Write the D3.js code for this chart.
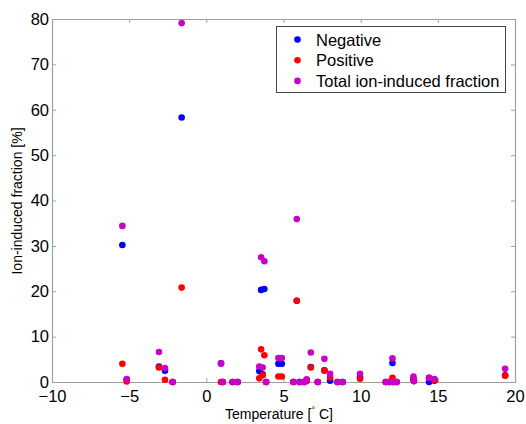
<!DOCTYPE html>
<html>
<head>
<meta charset="utf-8">
<script src="https://cdn.jsdelivr.net/npm/d3@7/dist/d3.min.js"></script>
<style>
  html, body { margin: 0; padding: 0; background: #fff; }
  svg { display: block; font-family: "Liberation Sans", Arial, sans-serif; }
</style>
</head>
<body>
<svg id="chart" width="526" height="424"></svg>
<script>
// ---- data ----
const temps    = [-5.44, -5.16, -3.07, -2.68, -2.18, -1.6, 0.95, 1.06, 1.7, 2.03, 3.43, 3.55, 3.65, 3.76, 3.87, 4.67, 4.89, 5.64, 5.86, 6.03, 6.35, 6.5, 6.77, 7.22, 7.65, 8.02, 8.5, 8.84, 9.96, 11.63, 11.85, 12.06, 12.1, 12.33, 13.42, 13.45, 14.43, 14.78, 19.36];
const negative = [30.2, 0.5, 3.4, 2.5, 0, 58.3, 4.1, 0, 0, 0, 2.4, 20.3, 1.7, 20.5, 0, 4.0, 4.0, 0, 17.9, 0, 0, 0.3, 3.3, 0, 2.6, 0.3, 0, 0, 1.1, 0, 0, 4.2, 0, 0, 0.6, 0.2, 0, 0.3, 1.5];
const positive = [4.0, 0.1, 3.2, 0.5, 0, 20.8, 0, 0, 0, 0, 0.8, 7.2, 1.5, 5.9, 0, 1.2, 1.2, 0, 17.9, 0, 0, 0.3, 3.2, 0, 2.5, 1.0, 0, 0, 0.7, 0, 0, 0.95, 0, 0, 0.6, 0.2, 0.95, 0.37, 1.4];
const total    = [34.4, 0.66, 6.6, 3.1, 0, 79.1, 4.1, 0, 0, 0, 3.4, 27.5, 3.2, 26.6, 0, 5.3, 5.3, 0, 35.9, 0, 0, 0.6, 6.5, 0, 5.1, 1.8, 0, 0, 1.8, 0, 0, 5.2, 0, 0, 1.2, 0.4, 0.95, 0.66, 2.9];
const seriesNames = ["Negative", "Positive", "Total ion-induced fraction"];
const seriesColors = ["#0000ff", "#ff0000", "#c800c8"];
const xTicks = [-10, -5, 0, 5, 10, 15, 20];
const yTicks = [0, 10, 20, 30, 40, 50, 60, 70, 80];
const xTitle = "Temperature [";
const yTitle = "Ion-induced fraction [%]";

// ---- layout ----
const L = 52, R = 515, T = 19, B = 382;
const svg = d3.select("#chart");
const x = d3.scaleLinear().domain([-10, 20]).range([L, R]);
const y = d3.scaleLinear().domain([0, 80]).range([B, T]);
const axisColor = "#a0a0a0";

function styleAxis(g) {
  g.selectAll(".domain").attr("stroke", axisColor).attr("stroke-width", 1.2);
  g.selectAll(".tick line").attr("stroke", axisColor);
  g.selectAll(".tick text").attr("fill", "#000").attr("font-size", 16.5);
}

svg.append("g").attr("transform", `translate(0,${B})`)
  .call(d3.axisBottom(x).tickValues(xTicks).tickSizeInner(-4).tickSizeOuter(0).tickPadding(8))
  .call(styleAxis);
svg.append("g").attr("transform", `translate(0,${T})`)
  .call(d3.axisTop(x).tickValues(xTicks).tickSizeInner(-4).tickSizeOuter(0).tickFormat(""))
  .call(styleAxis);
svg.append("g").attr("transform", `translate(${L},0)`)
  .call(d3.axisLeft(y).tickValues(yTicks).tickSizeInner(-4).tickSizeOuter(0).tickPadding(3))
  .call(styleAxis);
svg.append("g").attr("transform", `translate(${R},0)`)
  .call(d3.axisRight(y).tickValues(yTicks).tickSizeInner(-4).tickSizeOuter(0).tickFormat(""))
  .call(styleAxis);

// ---- points ----
const series = [negative, positive, total];
series.forEach((vals, si) => {
  svg.append("g").selectAll("circle")
    .data(temps.map((t, i) => ({ t, v: vals[i] })))
    .join("circle")
    .attr("cx", d => x(d.t))
    .attr("cy", d => y(d.v))
    .attr("r", 3.3)
    .attr("fill", seriesColors[si]);
});

// ---- axis titles ----
const xt = svg.append("text")
  .attr("x", 279).attr("y", 419)
  .attr("text-anchor", "middle").attr("font-size", 14).attr("fill", "#000");
xt.append("tspan").text(xTitle);
xt.append("tspan").attr("font-size", 9).attr("dy", -6).text("°");
xt.append("tspan").attr("dy", 6).text(" C]");

svg.append("text")
  .attr("transform", `translate(22,201) rotate(-90)`)
  .attr("text-anchor", "middle").attr("font-size", 14).attr("fill", "#000")
  .text(yTitle);

// ---- legend ----
const lg = svg.append("g");
lg.append("rect").attr("x", 276.5).attr("y", 26.5).attr("width", 229).attr("height", 66)
  .attr("fill", "#fff").attr("stroke", "#444").attr("stroke-width", 1);
seriesNames.forEach((name, i) => {
  const cy = 39.5 + i * 20.7;
  lg.append("circle").attr("cx", 297.5).attr("cy", cy).attr("r", 3.3).attr("fill", seriesColors[i]);
  lg.append("text").attr("x", 316).attr("y", cy + 6).attr("font-size", 16.5).attr("fill", "#000").text(name);
});
</script>
</body>
</html>
